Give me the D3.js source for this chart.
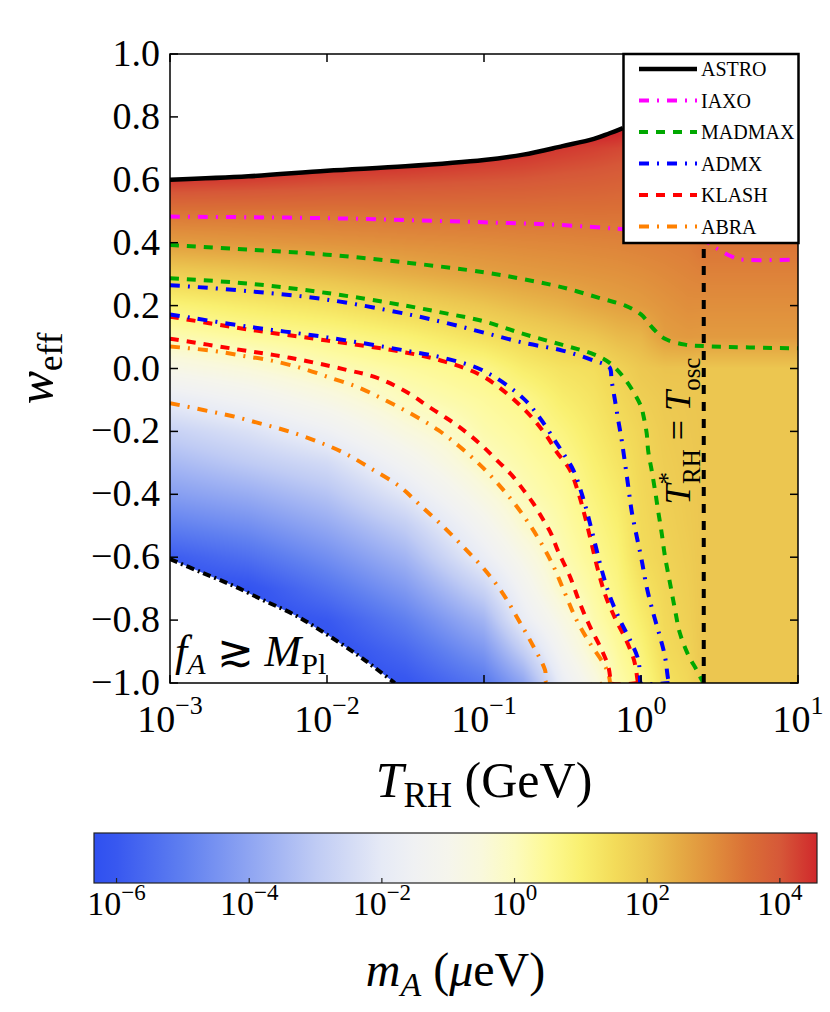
<!DOCTYPE html>
<html>
<head>
<meta charset="utf-8">
<script src="https://cdn.jsdelivr.net/npm/d3@7/dist/d3.min.js"></script>
<style>
html,body{margin:0;padding:0;background:#fff;}
svg{display:block;}
text{font-family:"Liberation Serif","DejaVu Serif","Times New Roman",serif;fill:#000;}
</style>
</head>
<body>
<svg id="chart" width="830" height="1012"></svg>
<script>
// ================= DATA (T_RH in GeV, w_eff) =================
const astroT = [0.001, 0.00316, 0.01, 0.0316, 0.1, 0.178, 0.316, 0.501, 0.631, 0.767];
const astroW = [0.600, 0.611, 0.629, 0.643, 0.663, 0.680, 0.707, 0.730, 0.748, 0.764];

const iaxoT = [0.001, 0.00316, 0.01, 0.0316, 0.1, 0.316, 0.714, 1.26, 2.0, 2.57, 3.03, 3.78, 4.27, 10];
const iaxoW = [0.483, 0.481, 0.478, 0.472, 0.465, 0.456, 0.444, 0.435, 0.425, 0.405, 0.382, 0.356, 0.347, 0.347];

const madmaxUpT = [0.001, 0.00316, 0.01, 0.0316, 0.1, 0.178, 0.316, 0.562, 0.794, 1.0, 1.19, 1.41, 1.91, 2.57, 10];
const madmaxUpW = [0.393, 0.378, 0.362, 0.337, 0.306, 0.284, 0.258, 0.222, 0.200, 0.172, 0.128, 0.095, 0.076, 0.071, 0.064];

const madmaxLoT = [0.001, 0.00316, 0.01, 0.0316, 0.0562, 0.1, 0.178, 0.316, 0.501, 0.631, 0.794, 1.0, 1.034, 1.087, 1.113, 1.169, 1.227, 1.288, 1.355, 1.422, 1.531, 1.648, 1.770, 2.0, 2.265, 2.438, 2.518];
const madmaxLoW = [0.287, 0.270, 0.240, 0.200, 0.176, 0.150, 0.110, 0.075, 0.045, 0.018, -0.035, -0.12, -0.148, -0.206, -0.265, -0.323, -0.386, -0.455, -0.524, -0.598, -0.683, -0.768, -0.842, -0.911, -0.959, -0.990, -1.0];

const admxUpT = [0.001, 0.00316, 0.01, 0.0316, 0.0562, 0.1, 0.178, 0.316, 0.501, 0.631, 0.649, 0.682, 0.716, 0.753, 0.791, 0.830, 0.873, 0.940, 1.010, 1.086, 1.197, 1.321, 1.422, 1.493, 1.521];
const admxUpW = [0.265, 0.246, 0.219, 0.174, 0.146, 0.114, 0.082, 0.057, 0.025, 0.003, -0.037, -0.100, -0.164, -0.227, -0.301, -0.376, -0.455, -0.535, -0.609, -0.694, -0.778, -0.853, -0.916, -0.990, -1.0];

const admxLoT = [0.001, 0.00316, 0.01, 0.0316, 0.0562, 0.1, 0.178, 0.2275, 0.2904, 0.3199, 0.3707, 0.4188, 0.4613, 0.5093, 0.5623, 0.6353, 0.7345, 0.8511, 0.9616, 0.9863, 0.993, 1.52];
const admxLoW = [0.172, 0.133, 0.099, 0.057, 0.033, -0.008, -0.095, -0.158, -0.238, -0.270, -0.323, -0.397, -0.471, -0.556, -0.641, -0.726, -0.800, -0.863, -0.927, -0.990, -1.0, -1.0];

const klashUpT = [0.001, 0.00316, 0.01, 0.0316, 0.0562, 0.1, 0.178, 0.251, 0.290, 0.353, 0.400, 0.440, 0.484, 0.532, 0.598, 0.693, 0.803, 0.902, 0.950, 0.957];
const klashUpW = [0.165, 0.124, 0.089, 0.051, 0.022, -0.027, -0.127, -0.215, -0.265, -0.323, -0.397, -0.471, -0.556, -0.641, -0.726, -0.800, -0.863, -0.927, -0.990, -1.0];

const klashLoT = [0.001, 0.002594, 0.005808, 0.01271, 0.02123, 0.03459, 0.04276, 0.05383, 0.06714, 0.08356, 0.1014, 0.1233, 0.1503, 0.1782, 0.2061, 0.2388, 0.2673, 0.2958, 0.3532, 0.4083, 0.4732, 0.5623, 0.6194, 0.6353, 0.6397, 0.957];
const klashLoW = [0.095, 0.062, 0.034, -0.002, -0.031, -0.084, -0.116, -0.148, -0.180, -0.217, -0.254, -0.296, -0.339, -0.386, -0.429, -0.482, -0.525, -0.580, -0.662, -0.747, -0.821, -0.895, -0.948, -0.98, -1.0, -1.0];

const abraUpT = [0.001, 0.001888, 0.002931, 0.004446, 0.006902, 0.01045, 0.01581, 0.02339, 0.03459, 0.05117, 0.07211, 0.09908, 0.1327, 0.1738, 0.2218, 0.2729, 0.3281, 0.3890, 0.4732, 0.5754, 0.6194, 0.6353];
const abraUpW = [0.070, 0.056, 0.040, 0.025, 0.001, -0.029, -0.060, -0.100, -0.145, -0.196, -0.254, -0.317, -0.386, -0.460, -0.540, -0.622, -0.715, -0.80, -0.874, -0.937, -0.97, -1.0];

const abraLoT = [0.001, 0.001629, 0.002472, 0.003837, 0.005808, 0.008790, 0.01303, 0.01936, 0.02917, 0.03908, 0.05383, 0.07379, 0.09908, 0.1297, 0.1614, 0.2014, 0.2449, 0.2512, 0.6353];
const abraLoW = [-0.110, -0.132, -0.151, -0.176, -0.201, -0.233, -0.270, -0.320, -0.376, -0.434, -0.498, -0.567, -0.635, -0.710, -0.789, -0.874, -0.959, -1.0, -1.0];

const planckT = [0.001, 0.00158, 0.00251, 0.00398, 0.00631, 0.01, 0.0158, 0.0214, 0.0270];
const planckW = [-0.606, -0.648, -0.690, -0.738, -0.785, -0.846, -0.912, -0.961, -1.0];

const tOsc = 2.51;

// colour field: log10(m_A / μeV) on a grid of T_RH columns and w_eff rows
const gridT = [0.001, 0.00316, 0.01, 0.0316, 0.1, 0.178, 0.316, 0.501, 0.708, 1.0, 1.413, 1.995, 2.512, 10];
const gridW = [-1.0, -0.9, -0.8, -0.7, -0.6, -0.5, -0.4, -0.3, -0.2, -0.1, 0.0, 0.1, 0.2, 0.3, 0.4, 0.5, 0.6, 0.7, 0.8, 0.9, 1.0];
const gridLogMass = [
  [-6.34,-6.34,-6.34,-6.34,-5.90,-5.00,-4.20,-3.50,-2.80,-1.89,-0.83,0.13,0.87,1.82,2.75,3.46,4.40,5,5,5,5],
  [-6.34,-6.34,-6.34,-6.20,-5.40,-4.60,-3.80,-3.00,-2.30,-1.39,-0.45,0.39,1.13,1.98,2.83,3.46,4.31,5,5,5,5],
  [-6.34,-6.34,-6.00,-5.30,-4.60,-3.90,-3.20,-2.50,-1.61,-0.74,0.05,0.61,1.36,2.19,2.90,3.46,4.19,4.9,5,5,5],
  [-6.10,-5.60,-5.00,-4.30,-3.60,-2.90,-2.06,-1.32,-0.58,0.01,0.37,0.93,1.70,2.43,2.99,3.48,4.12,4.8,5,5,5],
  [-5.20,-4.40,-3.60,-2.70,-1.79,-1.19,-0.59,-0.05,0.20,0.39,0.66,1.40,2.02,2.66,3.06,3.49,4.04,4.6,5,5,5],
  [-4.00,-2.90,-1.86,-1.33,-0.80,-0.27,0.07,0.25,0.42,0.59,1.08,1.63,2.22,2.76,3.10,3.50,4.00,4.5,5,5,5],
  [-1.80,-1.20,-0.70,-0.12,0.12,0.26,0.40,0.54,0.78,1.06,1.34,1.84,2.38,2.83,3.13,3.49,3.93,4.37,5,5,5],
  [-0.70,-0.15,0.18,0.35,0.53,0.67,0.83,0.99,1.15,1.30,1.46,2.00,2.56,2.89,3.16,3.50,3.89,4.28,5,5,5],
  [0.20,0.38,0.57,0.72,0.86,1.00,1.14,1.29,1.43,1.57,1.71,2.19,2.67,2.93,3.18,3.49,3.84,4.2,5,5,5],
  [0.62,0.84,1.06,1.28,1.50,1.54,1.58,1.62,1.67,1.80,1.95,2.30,2.76,2.99,3.22,3.49,3.79,4.1,4.4,5,5],
  [1.35,1.51,1.57,1.63,1.70,1.75,1.80,1.84,1.88,1.93,2.05,2.72,2.89,3.07,3.25,3.48,3.75,4.0,4.27,5,5],
  [1.60,1.71,1.78,1.82,1.86,1.90,1.92,1.94,1.96,1.98,2.05,2.80,3.00,3.15,3.30,3.60,3.90,4.2,4.45,5,5],
  [2.0,2.0,2.0,2.0,2.0,2.0,2.0,2.0,2.0,2.0,2.0,2.78,2.99,3.20,3.45,3.75,4.05,4.35,4.6,4.8,5],
  [2.0,2.0,2.0,2.0,2.0,2.0,2.0,2.0,2.0,2.0,2.0,2.78,2.99,3.20,3.45,3.75,4.05,4.35,4.6,4.8,5]
];

// colour bar: log10(m_A) stops and colours
const cbMin = -6.34, cbMax = 4.56;
const cbStops  = [-6.34, -6, -5, -4, -3, -2, -1.5, -1, -0.5, 0, 0.5, 1, 1.5, 2, 2.5, 3, 3.5, 4, 4.56];
const cbColors = ["#2f50f0","#3858f0","#5f7ff0","#8fa5f2","#bfcbf4","#e6eaf6","#f0f1f3","#f5f5ec","#f9f8dc","#fcfbbe","#fdf994","#f9f070","#f3dc5a","#ecc650","#e5aa44","#e08e3c","#da7036","#d65838","#d0282c"];

const xTicks = [1e-3, 1e-2, 1e-1, 1, 10];
const xTickExp = ["\u22123", "\u22122", "\u22121", "0", "1"];
const yTicks = [-1.0, -0.8, -0.6, -0.4, -0.2, 0.0, 0.2, 0.4, 0.6, 0.8, 1.0];
const cbTicks = [1e-6, 1e-4, 1e-2, 1, 1e2, 1e4];
const cbTickExp = ["\u22126", "\u22124", "\u22122", "0", "2", "4"];
const legendNames = ["ASTRO", "IAXO", "MADMAX", "ADMX", "KLASH", "ABRA"];

// ================= STYLES =================
const styles = {
  ASTRO:  {color:"#000000", width:4.5, dash:null},
  IAXO:   {color:"#ff00ff", width:4, dash:"10,8,2,8"},
  MADMAX: {color:"#00a800", width:4, dash:"9,8"},
  ADMX:   {color:"#0000ff", width:4, dash:"10,8,2,8"},
  KLASH:  {color:"#ff0000", width:4, dash:"9,8"},
  ABRA:   {color:"#ff8000", width:4, dash:"10,8,2,8"}
};

// ================= CHART =================
const svg = d3.select("#chart");
const X0 = 170, X1 = 798, Y0 = 54, Y1 = 683;
const x = d3.scaleLog().domain([1e-3, 10]).range([X0, X1]);
const y = d3.scaleLinear().domain([-1, 1]).range([Y1, Y0]);
const colorOf = d3.scaleLinear().domain(cbStops).range(cbColors).interpolate(d3.interpolateRgb).clamp(true);

const defs = svg.append("defs");
defs.append("clipPath").attr("id", "plotClip").append("rect")
  .attr("x", X0).attr("y", Y0).attr("width", X1 - X0).attr("height", Y1 - Y0);

// clip region for the field: below ASTRO, above the f_A > M_Pl boundary
const fieldPoly = [];
astroT.forEach((t, i) => fieldPoly.push([x(t), y(astroW[i])]));
fieldPoly.push([x(10), y(astroW[astroW.length - 1])]);
fieldPoly.push([x(10), y(-1)]);
for (let i = planckT.length - 1; i >= 0; i--) fieldPoly.push([x(planckT[i]), y(planckW[i])]);
defs.append("clipPath").attr("id", "fieldClip").append("path")
  .attr("d", "M" + fieldPoly.map(p => p.join(",")).join("L") + "Z");

// ---- render colour field to canvas (bilinear in screen space) ----
const W = X1 - X0, H = Y1 - Y0;
const canvas = document.createElement("canvas");
canvas.width = W; canvas.height = H;
const ctx = canvas.getContext("2d");
const img = ctx.createImageData(W, H);
const colPx = gridT.map(t => x(t) - X0);
const rowPx = gridW.map(w => y(w) - Y0);
const LUT = [];
const NL = 2048;
for (let k = 0; k <= NL; k++) {
  const c = d3.rgb(colorOf(cbMin + (cbMax - cbMin) * k / NL));
  LUT.push([c.r, c.g, c.b]);
}
const colIdx = new Array(W), colF = new Array(W);
for (let px = 0; px < W; px++) {
  const xx = px + 0.5;
  let i = 0;
  while (i < colPx.length - 2 && colPx[i + 1] < xx) i++;
  colIdx[px] = i;
  colF[px] = Math.max(0, Math.min(1, (xx - colPx[i]) / (colPx[i + 1] - colPx[i])));
}
for (let py = 0; py < H; py++) {
  const yy = py + 0.5;
  let j = 0;
  while (j < rowPx.length - 2 && rowPx[j + 1] > yy) j++;
  const fy = Math.max(0, Math.min(1, (rowPx[j] - yy) / (rowPx[j] - rowPx[j + 1])));
  for (let px = 0; px < W; px++) {
    const i = colIdx[px], fx = colF[px];
    const a = gridLogMass[i][j], b = gridLogMass[i + 1][j];
    const c = gridLogMass[i][j + 1], d = gridLogMass[i + 1][j + 1];
    const v = (a * (1 - fx) + b * fx) * (1 - fy) + (c * (1 - fx) + d * fx) * fy;
    let k = Math.round((v - cbMin) / (cbMax - cbMin) * NL);
    k = Math.max(0, Math.min(NL, k));
    const col = LUT[k];
    const o = (py * W + px) * 4;
    img.data[o] = col[0]; img.data[o + 1] = col[1]; img.data[o + 2] = col[2]; img.data[o + 3] = 255;
  }
}
ctx.putImageData(img, 0, 0);
svg.append("image")
  .attr("x", X0).attr("y", Y0).attr("width", W).attr("height", H)
  .attr("preserveAspectRatio", "none")
  .attr("href", canvas.toDataURL())
  .attr("clip-path", "url(#fieldClip)");

// ---- contour lines ----
const lineGen = d3.line().x(d => x(d[0])).y(d => y(d[1])).curve(d3.curveCatmullRom.alpha(0.5));
const zip = (T, Wv) => T.map((t, i) => [t, Wv[i]]);
const gLines = svg.append("g").attr("clip-path", "url(#plotClip)");
const series = [
  ["ABRA", abraLoT, abraLoW], ["ABRA", abraUpT, abraUpW],
  ["KLASH", klashLoT, klashLoW], ["KLASH", klashUpT, klashUpW],
  ["ADMX", admxLoT, admxLoW], ["ADMX", admxUpT, admxUpW],
  ["MADMAX", madmaxLoT, madmaxLoW], ["MADMAX", madmaxUpT, madmaxUpW],
  ["IAXO", iaxoT, iaxoW]
];
series.forEach(([name, T, Wv]) => {
  const s = styles[name];
  gLines.append("path").attr("d", lineGen(zip(T, Wv)))
    .attr("fill", "none").attr("stroke", s.color).attr("stroke-width", s.width)
    .attr("stroke-dasharray", s.dash);
});
// f_A > M_Pl boundary
gLines.append("path").attr("d", lineGen(zip(planckT, planckW)))
  .attr("fill", "none").attr("stroke", "#000").attr("stroke-width", 4)
  .attr("stroke-dasharray", "8,4,2,4");
// T_RH* = T_osc
gLines.append("line").attr("x1", x(tOsc)).attr("x2", x(tOsc)).attr("y1", y(-1)).attr("y2", y(1))
  .attr("stroke", "#000").attr("stroke-width", 4).attr("stroke-dasharray", "9,8");
// ASTRO
gLines.append("path").attr("d", lineGen(zip(astroT, astroW)))
  .attr("fill", "none").attr("stroke", "#000").attr("stroke-width", styles.ASTRO.width);

// ---- frame & ticks ----
svg.append("rect").attr("x", X0).attr("y", Y0).attr("width", W).attr("height", H)
  .attr("fill", "none").attr("stroke", "#000").attr("stroke-width", 1.5);
const gT = svg.append("g").attr("stroke", "#000").attr("stroke-width", 1.5);
xTicks.forEach(t => {
  gT.append("line").attr("x1", x(t)).attr("x2", x(t)).attr("y1", Y1).attr("y2", Y1 - 8);
  gT.append("line").attr("x1", x(t)).attr("x2", x(t)).attr("y1", Y0).attr("y2", Y0 + 8);
});
yTicks.forEach(v => {
  gT.append("line").attr("x1", X0).attr("x2", X0 + 8).attr("y1", y(v)).attr("y2", y(v));
  gT.append("line").attr("x1", X1).attr("x2", X1 - 8).attr("y1", y(v)).attr("y2", y(v));
});
xTicks.forEach((t, i) => {
  const tx = svg.append("text").attr("x", x(t)).attr("y", 732).attr("text-anchor", "middle")
    .attr("font-size", 38).text("10");
  tx.append("tspan").attr("dy", -18).attr("font-size", 26).text(xTickExp[i]);
});
yTicks.forEach(v => {
  const lab = (v < 0 ? "\u2212" : "") + Math.abs(v).toFixed(1);
  svg.append("text").attr("x", 160).attr("y", y(v) + 12).attr("text-anchor", "end")
    .attr("font-size", 38).text(lab);
});

// axis titles
const xt = svg.append("text").attr("x", (X0 + X1) / 2).attr("y", 797).attr("text-anchor", "middle").attr("font-size", 50);
xt.append("tspan").attr("font-style", "italic").text("T");
xt.append("tspan").attr("dy", 10).attr("font-size", 35).text("RH");
xt.append("tspan").attr("dy", -10).text(" (GeV)");

const yt = svg.append("text").attr("transform", `translate(52,${(Y0 + Y1) / 2}) rotate(-90)`)
  .attr("text-anchor", "middle").attr("font-size", 50);
yt.append("tspan").attr("font-style", "italic").text("w");
yt.append("tspan").attr("dy", 10).attr("font-size", 35).text("eff");

// in-plot annotations
const fa = svg.append("text").attr("x", 175).attr("y", 666).attr("font-size", 44);
fa.append("tspan").attr("font-style", "italic").text("f");
fa.append("tspan").attr("dy", 8).attr("font-size", 30).attr("font-style", "italic").text("A");
fa.append("tspan").attr("dy", -8).text(" \u2273 ");
fa.append("tspan").attr("font-style", "italic").text("M");
fa.append("tspan").attr("dy", 8).attr("font-size", 30).text("Pl");

const to = svg.append("text").attr("transform", `translate(690,431) rotate(-90)`)
  .attr("text-anchor", "middle").attr("font-size", 36);
to.append("tspan").attr("font-style", "italic").text("T");
to.append("tspan").attr("dy", -14).attr("font-size", 25).text("*");
to.append("tspan").attr("dx", -12).attr("dy", 24).attr("font-size", 25).text("RH");
to.append("tspan").attr("dy", -10).text(" = ");
to.append("tspan").attr("font-style", "italic").text("T");
to.append("tspan").attr("dy", 10).attr("font-size", 25).text("osc");

// ---- legend ----
const lg = svg.append("g");
lg.append("rect").attr("x", 623.5).attr("y", Y0).attr("width", 175).attr("height", 189)
  .attr("fill", "#fff").attr("stroke", "#000").attr("stroke-width", 2.5);
legendNames.forEach((n, i) => {
  const ly = 69 + i * 31.5;
  const s = styles[n];
  lg.append("line").attr("x1", 639).attr("x2", 697).attr("y1", ly).attr("y2", ly)
    .attr("stroke", s.color).attr("stroke-width", s.width).attr("stroke-dasharray", s.dash);
  lg.append("text").attr("x", 701).attr("y", ly + 7).attr("font-size", 20).text(n);
});

// ---- colour bar ----
const CB0 = 94, CB1 = 817, CBY = 833, CBH = 50;
const cbx = d3.scaleLog().domain([Math.pow(10, cbMin), Math.pow(10, cbMax)]).range([CB0, CB1]);
const grad = defs.append("linearGradient").attr("id", "cbGrad").attr("x1", "0%").attr("x2", "100%").attr("y1", "0%").attr("y2", "0%");
cbStops.forEach((s, i) => grad.append("stop").attr("offset", ((s - cbMin) / (cbMax - cbMin) * 100) + "%").attr("stop-color", cbColors[i]));
svg.append("rect").attr("x", CB0).attr("y", CBY).attr("width", CB1 - CB0).attr("height", CBH)
  .attr("fill", "url(#cbGrad)").attr("stroke", "#222").attr("stroke-width", 1.2);
cbTicks.forEach((t, i) => {
  svg.append("line").attr("x1", cbx(t)).attr("x2", cbx(t)).attr("y1", CBY + CBH).attr("y2", CBY + CBH - 5)
    .attr("stroke", "#222").attr("stroke-width", 1.2);
  const tx = svg.append("text").attr("x", cbx(t)).attr("y", 915).attr("text-anchor", "middle")
    .attr("font-size", 34).text("10");
  tx.append("tspan").attr("dy", -15).attr("font-size", 23).text(cbTickExp[i]);
});
const ct = svg.append("text").attr("x", (CB0 + CB1) / 2).attr("y", 986).attr("text-anchor", "middle").attr("font-size", 48);
ct.append("tspan").attr("font-style", "italic").text("m");
ct.append("tspan").attr("dy", 10).attr("font-size", 34).attr("font-style", "italic").text("A");
ct.append("tspan").attr("dy", -10).text(" (");
ct.append("tspan").attr("font-style", "italic").text("\u03bc");
ct.append("tspan").text("eV)");
</script>
</body>
</html>
